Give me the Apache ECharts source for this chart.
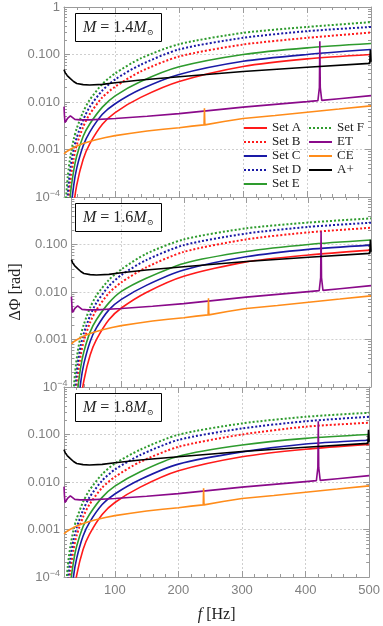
<!DOCTYPE html>
<html>
<head>
<meta charset="utf-8">
<script src="https://cdn.jsdelivr.net/npm/echarts@6/dist/echarts.min.js"></script>
<style>
html, body { margin: 0; padding: 0; background: #fff; }
#chart { width: 383px; height: 626px; }
</style>
</head>
<body>
<div id="chart"></div>
<script>
// frequency grid for the Set curves [Hz]
const freq = [20, 23, 26, 30, 35, 40, 50, 60, 80, 100, 140, 200, 300, 400, 500]

// M = 1.4 Msun
const setA_14 = [1e-7, 1e-7, 1e-7, 4e-6, 5.9e-5, 1.8e-4, 6.2e-4, 1.3e-3, 3.4e-3, 0.006, 0.0125, 0.027, 0.056, 0.081, 0.10]
const setB_14 = [1e-7, 4e-7, 4.5e-5, 2.2e-4, 6.3e-4, 1.25e-3, 3.0e-3, 0.0055, 0.0125, 0.021, 0.044, 0.091, 0.162, 0.224, 0.29]
const setC_14 = [1e-7, 1e-7, 1e-7, 3.6e-5, 1.7e-4, 4.1e-4, 1.2e-3, 2.3e-3, 5.5e-3, 0.0092, 0.0185, 0.038, 0.072, 0.10, 0.127]
const setD_14 = [1e-7, 1.9e-5, 1.24e-4, 4.1e-4, 1.0e-3, 1.8e-3, 4.2e-3, 0.0078, 0.0175, 0.030, 0.061, 0.128, 0.224, 0.31, 0.38]
const setE_14 = [1e-7, 1e-7, 1.5e-5, 1.1e-4, 3.5e-4, 7.4e-4, 1.9e-3, 3.4e-3, 0.0078, 0.0135, 0.027, 0.055, 0.10, 0.138, 0.17]
const setF_14 = [1.6e-6, 8e-5, 2.8e-4, 7.2e-4, 1.6e-3, 2.8e-3, 6.2e-3, 0.011, 0.024, 0.040, 0.083, 0.165, 0.285, 0.38, 0.48]

// M = 1.6 Msun
const setA_16 = [1e-7, 1e-7, 1e-7, 3e-6, 4.5e-5, 1.37e-4, 4.7e-4, 9.9e-4, 2.6e-3, 4.6e-3, 9.8e-3, 0.0215, 0.043, 0.06, 0.076]
const setB_16 = [1e-7, 3e-7, 3.4e-5, 1.7e-4, 4.8e-4, 9.5e-4, 2.3e-3, 4.2e-3, 9.5e-3, 0.016, 0.033, 0.07, 0.128, 0.18, 0.225]
const setC_16 = [1e-7, 1e-7, 1e-7, 2.7e-5, 1.3e-4, 3.1e-4, 9.1e-4, 1.75e-3, 4.2e-3, 7.0e-3, 0.0138, 0.029, 0.055, 0.079, 0.097]
const setD_16 = [1e-7, 1.4e-5, 9.4e-5, 3.1e-4, 7.6e-4, 1.37e-3, 3.2e-3, 5.9e-3, 0.0133, 0.0228, 0.047, 0.097, 0.17, 0.235, 0.287]
const setE_16 = [1e-7, 1e-7, 1.1e-5, 8.4e-5, 2.7e-4, 5.6e-4, 1.45e-3, 2.6e-3, 5.9e-3, 0.0103, 0.0195, 0.040, 0.071, 0.10, 0.124]
const setF_16 = [1.2e-6, 6.1e-5, 2.1e-4, 5.5e-4, 1.22e-3, 2.1e-3, 4.7e-3, 8.4e-3, 0.018, 0.030, 0.064, 0.128, 0.219, 0.29, 0.355]

// M = 1.8 Msun
const setA_18 = [1e-7, 1e-7, 1e-7, 2.4e-6, 3.6e-5, 1.1e-4, 3.8e-4, 7.9e-4, 2.07e-3, 3.7e-3, 7.8e-3, 0.0172, 0.034, 0.049, 0.062]
const setB_18 = [1e-7, 2.4e-7, 2.7e-5, 1.34e-4, 3.8e-4, 7.6e-4, 1.83e-3, 3.36e-3, 7.6e-3, 0.0128, 0.0265, 0.055, 0.10, 0.146, 0.177]
const setC_18 = [1e-7, 1e-7, 1e-7, 2.2e-5, 1.04e-4, 2.5e-4, 7.3e-4, 1.4e-3, 3.35e-3, 5.6e-3, 0.0113, 0.0238, 0.043, 0.063, 0.076]
const setD_18 = [1e-7, 1.2e-5, 7.6e-5, 2.5e-4, 6.1e-4, 1.1e-3, 2.56e-3, 4.75e-3, 0.0107, 0.0183, 0.037, 0.077, 0.134, 0.19, 0.236]
const setE_18 = [1e-7, 1e-7, 9e-6, 6.7e-5, 2.1e-4, 4.5e-4, 1.16e-3, 2.07e-3, 4.75e-3, 8.2e-3, 0.0165, 0.035, 0.06, 0.083, 0.10]
const setF_18 = [1e-6, 4.9e-5, 1.7e-4, 4.4e-4, 9.8e-4, 1.7e-3, 3.8e-3, 6.7e-3, 0.0146, 0.0244, 0.048, 0.099, 0.171, 0.236, 0.287]

// detector curves (same in every panel)
const etFreq = [20, 20.8, 21.5, 22.5, 24, 26, 28, 30, 33, 37, 45, 60, 100, 150, 200, 300, 400, 417, 419.3, 420, 420.7, 423, 450, 500]
const etVals = [0.008, 0.005, 0.0037, 0.0036, 0.0039, 0.0046, 0.005, 0.0051, 0.0047, 0.0043, 0.0042, 0.0042, 0.0045, 0.005, 0.0057, 0.0078, 0.0102, 0.0107, 0.02, 0.19, 0.02, 0.0108, 0.0117, 0.0136]
const ceFreq = [20, 25, 30, 40, 50, 60, 70, 85, 100, 125, 150, 175, 200, 220, 239, 239.6, 240.2, 241, 270, 300, 350, 400, 450, 500]
const ceVals = [0.00081, 0.00092, 0.00101, 0.00119, 0.00134, 0.00148, 0.00161, 0.00179, 0.00196, 0.0022, 0.00245, 0.00266, 0.00287, 0.0031, 0.0033, 0.0074, 0.0033, 0.00333, 0.0039, 0.0045, 0.0052, 0.0061, 0.0071, 0.0083]
const apFreq = [20, 22, 25, 30, 35, 40, 50, 60, 80, 100, 140, 200, 300, 400, 498, 499, 500]
const apVals = [0.048, 0.041, 0.036, 0.031, 0.027, 0.0245, 0.0232, 0.0228, 0.0235, 0.0255, 0.029, 0.034, 0.044, 0.054, 0.065, 0.125, 0.07]

const masses = ['1.4', '1.6', '1.8']
const panelSets = [
  [setA_14, setB_14, setC_14, setD_14, setE_14, setF_14],
  [setA_16, setB_16, setC_16, setD_16, setE_16, setF_16],
  [setA_18, setB_18, setC_18, setD_18, setE_18, setF_18]
]
const setNames = ['Set A', 'Set B', 'Set C', 'Set D', 'Set E', 'Set F']
const setColors = ['#ff1a1a', '#ff1a1a', '#1a1aa6', '#1a1aa6', '#2e9b2e', '#2e9b2e']
const setDotted = [false, true, false, true, false, true]

// tick values
const xMajor = [100, 200, 300, 400, 500]
const xMinor = [20, 40, 60, 80, 120, 140, 160, 180, 220, 240, 260, 280, 320, 340, 360, 380, 420, 440, 460, 480]
const yMajor = [1e-4, 1e-3, 1e-2, 1e-1, 1]
const yMinor = []
for (const d of [1e-4, 1e-3, 1e-2, 1e-1]) {
  for (let k = 2; k <= 9; k++) yMinor.push(+(k * d).toPrecision(3))
}

const tops = [7, 197, 387]
const frame = '#9a9a9a'
const serif = 'Liberation Serif'
const labelStyle = { fontFamily: 'Liberation Sans', fontSize: 13, color: '#808080' }
const gridLine = { show: true, lineStyle: { color: '#cfcfcf', type: [2, 2], width: 1 } }

const grid = []
const xAxis = []
const yAxis = []
const series = []
const title = []

tops.forEach((top, p) => {
  grid.push({ left: 64, width: 307, top: top, height: 190 })

  const xBase = { type: 'value', gridIndex: p, min: 20, max: 500, splitLine: { show: false }, axisLabel: { show: false } }
  xAxis.push({
    ...xBase,
    position: 'bottom',
    axisLine: { show: true, onZero: false, lineStyle: { color: frame } },
    axisTick: { inside: true, length: 6, customValues: xMajor, lineStyle: { color: frame } },
    axisLabel: { show: p === 2, customValues: xMajor, margin: 7, ...labelStyle },
    splitLine: gridLine,
    name: p === 2 ? '{i|f} [Hz]' : '',
    nameLocation: 'middle',
    nameGap: 30,
    nameTextStyle: { fontFamily: serif, fontSize: 16, color: '#222', rich: { i: { fontFamily: serif, fontStyle: 'italic', fontSize: 16, color: '#222' } } }
  })
  xAxis.push({
    ...xBase, position: 'top',
    axisLine: { show: true, onZero: false, lineStyle: { color: frame } },
    axisTick: { inside: true, length: 6, customValues: xMajor, lineStyle: { color: frame } }
  })
  xAxis.push({
    ...xBase, position: 'bottom', axisLine: { show: false },
    axisTick: { inside: true, length: 3, customValues: xMinor, lineStyle: { color: frame } }
  })
  xAxis.push({
    ...xBase, position: 'top', axisLine: { show: false },
    axisTick: { inside: true, length: 3, customValues: xMinor, lineStyle: { color: frame } }
  })

  const yBase = { type: 'log', logBase: 10, gridIndex: p, min: 1e-4, max: 1, splitLine: { show: false }, axisLabel: { show: false } }
  yAxis.push({
    ...yBase,
    position: 'left',
    axisLine: { show: true, onZero: false, lineStyle: { color: frame } },
    axisTick: { inside: true, length: 6, customValues: yMajor, lineStyle: { color: frame } },
    axisLabel: {
      show: true,
      customValues: p === 0 ? yMajor : yMajor.slice(0, 4),
      margin: 4,
      ...labelStyle,
      formatter: v => v > 0.5 ? '1' : v < 5e-4 ? '{b|10}{s|−4}' : v.toFixed(3),
      rich: {
        b: { ...labelStyle, lineHeight: 16 },
        s: { ...labelStyle, fontSize: 9, verticalAlign: 'top', lineHeight: 10 }
      }
    },
    splitLine: gridLine,
    name: p === 1 ? 'ΔΦ [rad]' : '',
    nameLocation: 'middle',
    nameGap: 43,
    nameTextStyle: { fontFamily: serif, fontSize: 16, color: '#222' }
  })
  yAxis.push({
    ...yBase, position: 'right',
    axisLine: { show: true, onZero: false, lineStyle: { color: frame } },
    axisTick: { inside: true, length: 6, customValues: yMajor, lineStyle: { color: frame } }
  })
  yAxis.push({
    ...yBase, position: 'left', axisLine: { show: false },
    axisTick: { inside: true, length: 3, customValues: yMinor, lineStyle: { color: frame } }
  })
  yAxis.push({
    ...yBase, position: 'right', axisLine: { show: false },
    axisTick: { inside: true, length: 3, customValues: yMinor, lineStyle: { color: frame } }
  })

  const ax = p * 4
  panelSets[p].forEach((vals, s) => {
    series.push({
      name: setNames[s],
      type: 'line',
      xAxisIndex: ax,
      yAxisIndex: ax,
      data: freq.map((f, i) => [f, vals[i]]),
      symbol: 'none',
      smooth: 0.25,
      itemStyle: { color: setColors[s] },
      lineStyle: { color: setColors[s], width: setDotted[s] ? 2 : 1.6, type: setDotted[s] ? [2, 2] : 'solid' }
    })
  })
  const detectors = [
    { name: 'ET', f: etFreq, v: etVals, color: '#8a0a8a' },
    { name: 'CE', f: ceFreq, v: ceVals, color: '#ff8c1a' },
    { name: 'A+', f: apFreq, v: apVals, color: '#000000' }
  ]
  detectors.forEach(d => {
    series.push({
      name: d.name,
      type: 'line',
      xAxisIndex: ax,
      yAxisIndex: ax,
      data: d.f.map((f, i) => [f, d.v[i]]),
      symbol: 'none',
      itemStyle: { color: d.color },
      lineStyle: { color: d.color, width: 1.6 }
    })
  })

  title.push({
    text: '{i|M} = ' + masses[p] + '{i|M}{s|⊙}',
    left: 75,
    top: top + 6,
    padding: [6, 8, 5, 8],
    borderColor: '#000',
    borderWidth: 1,
    textStyle: {
      fontFamily: serif, fontSize: 16, fontWeight: 'normal', color: '#222', lineHeight: 18,
      rich: {
        i: { fontFamily: serif, fontStyle: 'italic', fontSize: 16, color: '#222', lineHeight: 18 },
        s: { fontFamily: 'DejaVu Serif', fontSize: 8, color: '#222', verticalAlign: 'bottom', lineHeight: 12 }
      }
    }
  })
})

const legendText = { fontFamily: serif, fontSize: 13, color: '#222', lineHeight: 14 }
const legendBase = {
  orient: 'vertical', top: 116, itemWidth: 23, itemHeight: 10, itemGap: 0,
  itemStyle: { opacity: 0 }, textStyle: legendText
}
const legend = [
  { ...legendBase, data: ['Set A', 'Set B', 'Set C', 'Set D', 'Set E'], left: 238 },
  { ...legendBase, data: ['Set F', 'ET', 'CE', 'A+'], left: 303 }
]

const chart = echarts.init(document.getElementById('chart'))
chart.setOption({
  animation: false,
  backgroundColor: '#fff',
  title,
  legend,
  grid,
  xAxis,
  yAxis,
  series
})
</script>
</body>
</html>
